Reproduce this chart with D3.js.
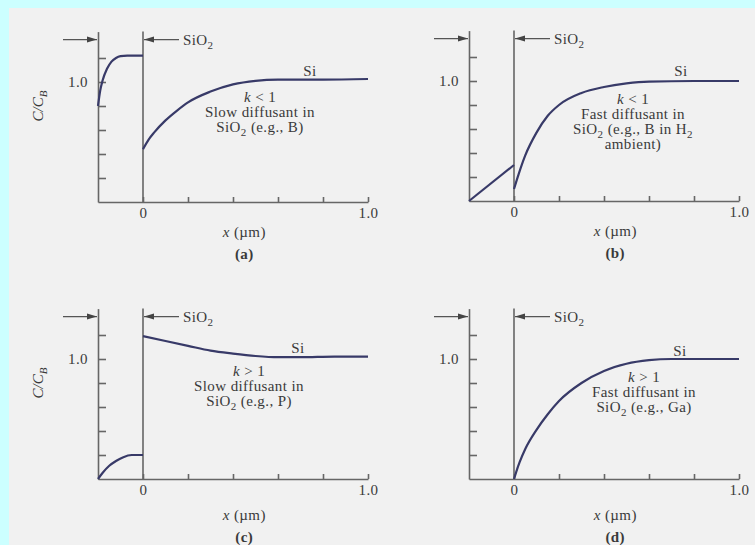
<!DOCTYPE html>
<html><head><meta charset="utf-8">
<script src="https://cdn.jsdelivr.net/npm/d3@7"></script>
<style>
body{margin:0;background:#ccffff;}
svg{display:block;}
</style></head>
<body>
<svg id="chart" width="755" height="545"></svg>
<script>
// ---- data ----
const yTicks = [0.2, 0.4, 0.6, 0.8, 1.0, 1.2];
const xTicks = [0, 0.2, 0.4, 0.6, 0.8, 1.0];
const yTickLabels = {"1": "1.0"};
const xTickLabels = {"0": "0", "1": "1.0"};
const panelLabels = ["(a)", "(b)", "(c)", "(d)"];

// oxide (x < 0) and silicon (x >= 0) profiles, [x in µm, C/C_B]
const oxideA = [[-0.2,0.8],[-0.19,0.93],[-0.18,1.01],[-0.16,1.11],[-0.14,1.17],[-0.12,1.2],[-0.1,1.215],[-0.07,1.22],[0,1.22]];
const siA    = [[0,0.44],[0.025,0.52],[0.05,0.58],[0.1,0.68],[0.15,0.76],[0.2,0.83],[0.3,0.92],[0.4,0.98],[0.5,1.01],[0.6,1.02],[0.8,1.02],[1.0,1.025]];
const oxideB = [[-0.2,0],[0,0.3]];
const siB    = [[0,0.1],[0.02,0.22],[0.05,0.38],[0.1,0.57],[0.15,0.71],[0.2,0.8],[0.3,0.9],[0.4,0.95],[0.5,0.98],[0.6,0.995],[0.8,1.0],[1.0,1.0]];
const oxideC = [[-0.2,0],[-0.18,0.05],[-0.15,0.11],[-0.12,0.15],[-0.09,0.18],[-0.05,0.2],[0,0.2]];
const siC    = [[0,1.19],[0.1,1.15],[0.2,1.11],[0.3,1.07],[0.4,1.045],[0.5,1.025],[0.6,1.015],[0.7,1.015],[0.85,1.02],[1.0,1.02]];
const oxideD = [];
const siD    = [[0,0],[0.01,0.06],[0.025,0.14],[0.05,0.25],[0.1,0.41],[0.15,0.54],[0.2,0.65],[0.3,0.8],[0.4,0.9],[0.5,0.96],[0.6,0.99],[0.7,1.0],[1.0,1.0]];

const notesA = ["*k* < 1", "Slow diffusant in", "SiO_2 (e.g., B)"];
const notesB = ["*k* < 1", "Fast diffusant in", "SiO_2 (e.g., B in H_2", "ambient)"];
const notesC = ["*k* > 1", "Slow diffusant in", "SiO_2 (e.g., P)"];
const notesD = ["*k* > 1", "Fast diffusant in", "SiO_2 (e.g., Ga)"];

const siLabel = "Si";
const oxLabel = "SiO_2";
const yLabel = "C/C_B";
const xLabel = "*x* (µm)";

// ---- layout ----
const panels = [
  {left: 98,  bottom: 202, ox: oxideA, si: siA, notes: notesA, ylab: true,  nx: 117, ny: -100, sx: 167, sy: -126, lx: 35, pl: 57},
  {left: 469, bottom: 201, ox: oxideB, si: siB, notes: notesB, ylab: false, nx: 119, ny: -97,  sx: 167, sy: -125, lx: 35, pl: 57},
  {left: 98,  bottom: 479, ox: oxideC, si: siC, notes: notesC, ylab: true,  nx: 106, ny: -103, sx: 155, sy: -126, lx: 41, pl: 63},
  {left: 469, bottom: 479, ox: oxideD, si: siD, notes: notesD, ylab: false, nx: 130, ny: -97,  sx: 166, sy: -123, lx: 41, pl: 63}
];

const svg = d3.select("#chart");
svg.append("rect").attr("x", 9).attr("y", 8).attr("width", 746).attr("height", 537).attr("fill", "#f1f1f1");

const defs = svg.append("defs");
defs.append("marker").attr("id", "ah").attr("viewBox", "0 -4 10 8")
  .attr("refX", 10).attr("refY", 0).attr("markerWidth", 10).attr("markerHeight", 8)
  .attr("markerUnits", "userSpaceOnUse").attr("orient", "auto")
  .append("path").attr("d", "M0,-3L10,0L0,3Z").attr("fill", "#444");

const FONT = "'Liberation Serif','DejaVu Serif',serif";
const TXT = "#3a3a3a";
const AX = "#666";
const CURVE = "#383a68";

function rich(t, s, subSize) {
  const parts = s.split(/(\*[^*]+\*|_[0-9A-Za-z])/).filter(p => p.length);
  let pendingUp = false;
  parts.forEach(p => {
    let ts;
    if (p.startsWith("_")) {
      t.append("tspan").attr("dy", 4).attr("font-size", subSize || 11).text(p.slice(1));
      pendingUp = true;
      return;
    }
    if (p.startsWith("*")) {
      ts = t.append("tspan").attr("font-style", "italic").text(p.slice(1, -1));
    } else {
      ts = t.append("tspan").text(p);
    }
    if (pendingUp) { ts.attr("dy", -4); pendingUp = false; }
  });
}

function label(g, xx, yy, size) {
  return g.append("text").attr("x", xx).attr("y", yy)
    .attr("font-family", FONT).attr("font-size", size || 15).attr("fill", TXT)
    .attr("letter-spacing", 0.4);
}

panels.forEach((p, i) => {
  const x = d3.scaleLinear([-0.2, 1.0], [p.left, p.left + 270]);
  const y = d3.scaleLinear([0, 1.42], [p.bottom, p.bottom - 170.4]);
  const g = svg.append("g");

  // y axis
  const ya = g.append("g").attr("transform", `translate(${p.left},0)`)
    .call(d3.axisLeft(y).tickValues(yTicks).tickSize(-8).tickSizeOuter(0).tickPadding(10)
      .tickFormat(d => yTickLabels[String(+d.toFixed(1))] || ""));
  // x axis
  const xa = g.append("g").attr("transform", `translate(0,${p.bottom})`)
    .call(d3.axisBottom(x).tickValues(xTicks).tickSize(-5).tickSizeOuter(0).tickPadding(5)
      .tickFormat(d => xTickLabels[String(+d.toFixed(1))] || ""));
  [ya, xa].forEach(a => {
    a.selectAll("path,line").attr("stroke", AX).attr("stroke-width", 1.6);
    a.selectAll("text").attr("font-family", FONT).attr("font-size", 15).attr("fill", TXT)
      .attr("letter-spacing", 0.4);
  });

  // interface line at x = 0
  g.append("line").attr("x1", x(0)).attr("x2", x(0)).attr("y1", y(0)).attr("y2", y(1.42))
    .attr("stroke", AX).attr("stroke-width", 1.6);

  // curves
  const line = d3.line().x(d => x(d[0])).y(d => y(d[1])).curve(d3.curveMonotoneX);
  [p.ox, p.si].forEach(s => {
    if (s.length) g.append("path").attr("d", line(s)).attr("fill", "none")
      .attr("stroke", CURVE).attr("stroke-width", 2.2);
  });

  // oxide thickness arrows
  const ay = y(1.42) + 8;
  g.append("line").attr("x1", x(-0.2) - 35).attr("x2", x(-0.2) - 1).attr("y1", ay).attr("y2", ay)
    .attr("stroke", "#555").attr("stroke-width", 1.3).attr("marker-end", "url(#ah)");
  g.append("line").attr("x1", x(0) + 36).attr("x2", x(0) + 1).attr("y1", ay).attr("y2", ay)
    .attr("stroke", "#555").attr("stroke-width", 1.3).attr("marker-end", "url(#ah)");
  rich(label(g, x(0) + 40, ay + 5), oxLabel);

  // Si label
  label(g, x(0) + p.sx, p.bottom + p.sy).attr("text-anchor", "middle").text(siLabel);

  // annotation
  p.notes.forEach((n, k) => {
    rich(label(g, x(0) + p.nx, p.bottom + p.ny + k * 15).attr("text-anchor", "middle"), n);
  });

  // y label
  if (p.ylab) {
    const t = g.append("text").attr("transform", `translate(${p.left - 55},${p.bottom - 96}) rotate(-90)`)
      .attr("text-anchor", "middle").attr("font-family", FONT).attr("font-size", 15)
      .attr("font-style", "italic").attr("fill", TXT);
    rich(t, yLabel, 11);
  }

  // x label
  rich(label(g, x(0.45), p.bottom + p.lx).attr("text-anchor", "middle"), xLabel);

  // panel label
  label(g, x(0.45), p.bottom + p.pl).attr("text-anchor", "middle").attr("font-weight", "bold")
    .text(panelLabels[i]);
});
</script>
</body></html>
